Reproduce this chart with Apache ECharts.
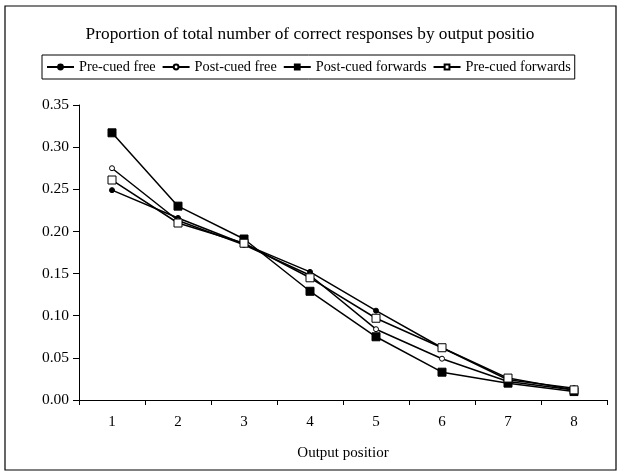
<!DOCTYPE html>
<html>
<head>
<meta charset="utf-8">
<script src="https://cdn.jsdelivr.net/npm/echarts@6/dist/echarts.min.js"></script>
<style>
  html, body {margin: 0; padding: 0; background: #fff;}
  #chart {width: 620px; height: 472px;}
</style>
</head>
<body>
<div id="chart"></div>
<script>
// output positions
const positions = ['1', '2', '3', '4', '5', '6', '7', '8'];

// proportion of correct responses per output position
const preCuedFree = [0.249, 0.216, 0.185, 0.152, 0.106, 0.062, 0.024, 0.014];
const postCuedFree = [0.275, 0.213, 0.184, 0.148, 0.084, 0.049, 0.022, 0.012];
const postCuedForwards = [0.317, 0.230, 0.191, 0.129, 0.075, 0.033, 0.020, 0.010];
const preCuedForwards = [0.261, 0.210, 0.186, 0.145, 0.097, 0.062, 0.026, 0.012];

const serif = '"Liberation Serif", "DejaVu Serif", serif';

function make_series(name, data, symbol, size, filled) {
    return {
        name: name,
        type: 'line',
        data: data,
        symbol: symbol,
        symbolSize: size,
        showSymbol: true,
        lineStyle: {color: '#000', width: 1.5},
        itemStyle: {
            color: filled ? '#000' : '#fff',
            borderColor: '#000',
            borderWidth: 1
        },
        emphasis: {disabled: true},
        animation: false
    };
}

let chart = echarts.init(document.getElementById('chart'));
chart.setOption({
    backgroundColor: '#fff',
    title: {
        text: 'Proportion of total number of correct responses by output positio',
        left: 'center',
        top: 21,
        textStyle: {fontFamily: serif, fontSize: 17.3, fontWeight: 'normal', color: '#000'}
    },
    legend: {
        top: 55,
        left: 42,
        itemWidth: 27,
        itemHeight: 6,
        itemGap: 6,
        padding: [5, 4, 5, 4],
        borderColor: '#000',
        borderWidth: 1,
        textStyle: {fontFamily: serif, fontSize: 14.3, color: '#000'},
        data: ['Pre-cued free', 'Post-cued free', 'Post-cued forwards', 'Pre-cued forwards']
    },
    grid: {left: 79, right: 13, top: 105, bottom: 72},
    xAxis: {
        type: 'category',
        data: positions,
        boundaryGap: true,
        name: 'Output positior',
        nameLocation: 'middle',
        nameGap: 46,
        nameTextStyle: {fontFamily: serif, fontSize: 15, color: '#000'},
        axisLine: {lineStyle: {color: '#000', width: 1}},
        axisTick: {show: true, length: 5, lineStyle: {color: '#000'}},
        axisLabel: {fontFamily: serif, fontSize: 15, color: '#000', margin: 15},
        splitLine: {show: false}
    },
    yAxis: {
        type: 'value',
        min: 0,
        max: 0.35,
        interval: 0.05,
        axisLine: {show: true, lineStyle: {color: '#000', width: 1}},
        axisTick: {show: true, inside: false, length: 6, lineStyle: {color: '#000'}},
        axisLabel: {
            fontFamily: serif, fontSize: 15.5, color: '#000', margin: 10,
            formatter: v => v.toFixed(2)
        },
        splitLine: {show: false}
    },
    graphic: [{
        type: 'rect',
        shape: {x: 5, y: 6, width: 611, height: 464},
        style: {fill: 'none', stroke: '#000', lineWidth: 1.2},
        silent: true
    }],
    series: [
        make_series('Pre-cued free', preCuedFree, 'circle', 5, true),
        make_series('Post-cued free', postCuedFree, 'circle', 5, false),
        make_series('Post-cued forwards', postCuedForwards, 'rect', 8, true),
        make_series('Pre-cued forwards', preCuedForwards, 'rect', 8, false)
    ]
});
</script>
</body>
</html>
